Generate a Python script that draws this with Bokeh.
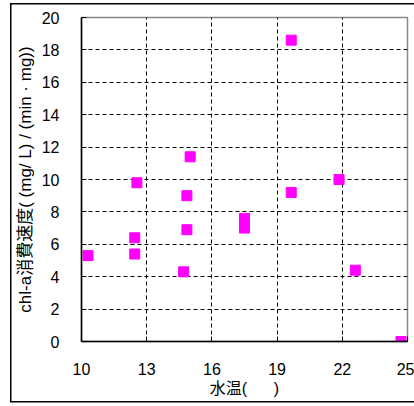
from bokeh.plotting import figure
from bokeh.models import FixedTicker, ColumnDataSource
from bokeh.embed import file_html
from bokeh.resources import INLINE

water_temp = [10.3, 12.45, 12.45, 12.55, 15.0, 14.85, 14.85, 14.7, 17.5, 17.5, 19.65, 19.65, 21.85, 22.6, 24.7]
chl_rate = [5.3, 6.4, 5.4, 9.8, 11.4, 9.0, 6.9, 4.3, 7.6, 7.0, 18.6, 9.2, 10.0, 4.4, 0.0]
x_ticks = [10, 13, 16, 19, 22, 25]
y_ticks = [0, 2, 4, 6, 8, 10, 12, 14, 16, 18, 20]

W, H = 414, 406
p = figure(width=W, height=H, output_backend="svg", toolbar_location=None,
           x_range=(10, 25), y_range=(0, 20),
           min_border_left=81, min_border_right=7, min_border_top=17, min_border_bottom=65)
p.background_fill_color = "white"
p.border_fill_color = None
p.outline_line_color = "#888888"
p.outline_line_width = 1.5
p.styles = {
    "background-color": "white",
    "background-image": "linear-gradient(black, black), linear-gradient(black, black), linear-gradient(black, black)",
    "background-size": "1.5px 399px, 420px 1.5px, 420px 1.5px",
    "background-position": "10px 3px, 10px 3px, 10px 401px",
    "background-repeat": "no-repeat",
}

src = ColumnDataSource(dict(x=water_temp, y=chl_rate))
p.scatter("x", "y", source=src, marker="square", size=10, fill_color="#FF00FF", line_color="#FF00FF")

for ax in (p.xaxis[0], p.yaxis[0]):
    ax.axis_line_color = "black"
    ax.axis_line_width = 1.5
    ax.major_tick_in = 5
    ax.major_tick_out = 0
    ax.major_tick_line_color = "black"
    ax.minor_tick_line_color = None
    ax.major_label_text_font = "Liberation Sans"
    ax.major_label_text_font_size = "16px"
    ax.major_label_text_color = "black"
    ax.axis_label_text_font = "Liberation Sans, 'Noto Sans CJK JP'"
    ax.axis_label_text_font_style = "normal"
    ax.axis_label_text_color = "black"

p.xaxis.ticker = FixedTicker(ticks=x_ticks)
p.yaxis.ticker = FixedTicker(ticks=y_ticks)
p.xaxis.major_label_standoff = 21
p.yaxis.major_label_standoff = 22
p.xaxis.axis_label = "水温(\u00a0\u00a0\u00a0\u00a0\u00a0\u00a0)"
p.yaxis.axis_label = "chl-a消費速度( (mg/ L) / (min · mg))"
p.xaxis.axis_label_text_font_size = "16px"
p.yaxis.axis_label_text_font_size = "17px"
p.xaxis.axis_label_standoff = 2
p.yaxis.axis_label_standoff = 4

for g in (p.xgrid[0], p.ygrid[0]):
    g.grid_line_color = "black"
    g.grid_line_dash = "4 3"
    g.grid_line_width = 1
p.xgrid.ticker = FixedTicker(ticks=x_ticks)
p.ygrid.ticker = FixedTicker(ticks=y_ticks)

open("out.html", "w").write(file_html(p, INLINE))
